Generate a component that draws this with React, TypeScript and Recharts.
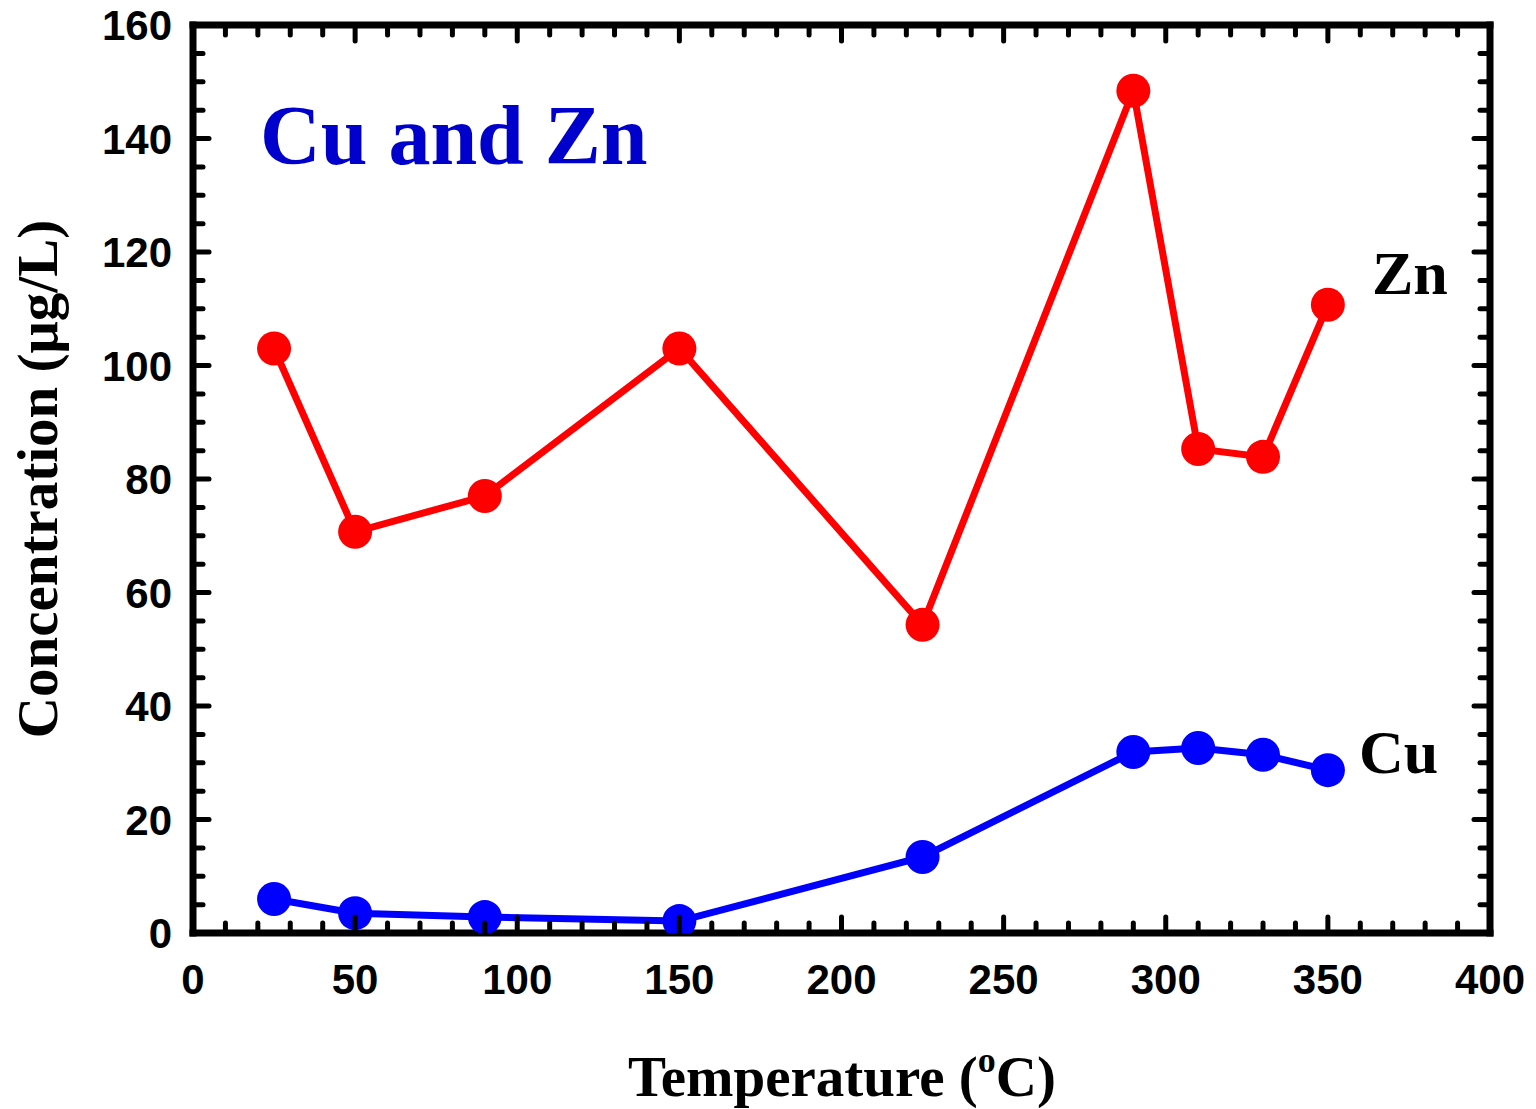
import React from 'react';
import { LineChart, Line, XAxis, YAxis, Label, Customized } from 'recharts';

// temperature (°C) for each sample
const temperature = [25, 50, 90, 150, 225, 290, 310, 330, 350];
// concentrations (µg/L)
const znValues = [103, 70.7, 77, 103, 54.3, 148.4, 85.3, 83.9, 110.7];
const cuValues = [6.0, 3.5, 2.8, 2.1, 13.4, 31.9, 32.6, 31.4, 28.7];

const xMajorTicks = [0, 50, 100, 150, 200, 250, 300, 350, 400];
const xMinorTicks = [10, 20, 30, 40, 60, 70, 80, 90, 110, 120, 130, 140, 160, 170, 180, 190, 210, 220, 230, 240, 260, 270, 280, 290, 310, 320, 330, 340, 360, 370, 380, 390];
const yMajorTicks = [0, 20, 40, 60, 80, 100, 120, 140, 160];
const yMinorTicks = [5, 10, 15, 25, 30, 35, 45, 50, 55, 65, 70, 75, 85, 90, 95, 105, 110, 115, 125, 130, 135, 145, 150, 155];

const data = temperature.map((t, i) => ({ t, zn: znValues[i], cu: cuValues[i] }));
const xAll = [...xMajorTicks, ...xMinorTicks].sort((a, b) => a - b);
const yAll = [...yMajorTicks, ...yMinorTicks].sort((a, b) => a - b);

const SANS = '"Liberation Sans", Arial, sans-serif';
const SERIF = '"Liberation Serif", "Times New Roman", serif';
const frame = { stroke: '#000', strokeWidth: 7, strokeLinecap: 'square' as const };
const MAJOR = 16;
const MINOR = 10;

const tickLen = (v: number, major: number[]) => (major.includes(v) ? MAJOR : MINOR);

// side: direction the tick goes into the plot
const makeTick = (
  side: 'up' | 'down' | 'left' | 'right',
  major: number[],
  label: 'x' | 'y' | null,
  ends: number[],
) =>
  (props: any) => {
    const { x, y, payload } = props;
    const v = payload.value;
    const len = tickLen(v, major);
    const dx = side === 'right' ? len : side === 'left' ? -len : 0;
    const dy = side === 'down' ? len : side === 'up' ? -len : 0;
    const isMajor = major.includes(v);
    const showLine = !ends.includes(v);
    return (
      <g>
        {showLine && (
          <line x1={x} y1={y} x2={x + dx} y2={y + dy} stroke="#000" strokeWidth={5} strokeLinecap="round" />
        )}
        {label === 'x' && isMajor && (
          <text x={x} y={y + 61} textAnchor="middle" fontFamily={SANS} fontWeight="bold" fontSize={42} fill="#000">
            {v}
          </text>
        )}
        {label === 'y' && isMajor && (
          <text x={x - 21} y={y + 15} textAnchor="end" fontFamily={SANS} fontWeight="bold" fontSize={42} fill="#000">
            {v}
          </text>
        )}
      </g>
    );
  };

const xTitle = () => (
  <text x={842} y={1096} textAnchor="middle" fontFamily={SERIF} fontWeight="bold" fontSize={57} fill="#000">
    Temperature (<tspan fontSize={36} dy={-24}>o</tspan><tspan dy={24}>C)</tspan>
  </text>
);

const yTitle = () => (
  <text
    x={57}
    y={479}
    transform="rotate(-90 57 479)"
    textAnchor="middle"
    fontFamily={SERIF}
    fontWeight="bold"
    fontSize={57}
    fill="#000"
  >
    Concentration (μg/L)
  </text>
);

const Annotations = () => (
  <g>
    <text x={260} y={164} fontFamily={SERIF} fontWeight="bold" fontSize={84} fill="#0000cc">
      Cu and Zn
    </text>
    <text x={1372} y={294} fontFamily={SERIF} fontWeight="bold" fontSize={62} fill="#000">
      Zn
    </text>
    <text x={1359} y={773} fontFamily={SERIF} fontWeight="bold" fontSize={62} fill="#000">
      Cu
    </text>
  </g>
);

export default function App() {
  return (
    <div style={{ position: 'absolute', left: 0, top: 0, background: '#fff' }}>
      <LineChart width={1536} height={1109} data={data} margin={{ top: 24, right: 45, left: 0, bottom: 0 }}>
        <XAxis
          xAxisId="x"
          dataKey="t"
          type="number"
          domain={[0, 400]}
          allowDataOverflow
          ticks={xAll}
          interval={0}
          height={176}
          axisLine={frame}
          tickLine={false}
          tickSize={0}
          tickMargin={0}
          tick={makeTick('up', xMajorTicks, 'x', [0, 400])}
        >
          <Label content={xTitle} />
        </XAxis>
        <XAxis
          xAxisId="xt"
          dataKey="t"
          type="number"
          orientation="top"
          domain={[0, 400]}
          allowDataOverflow
          ticks={xAll}
          interval={0}
          height={1}
          axisLine={frame}
          tickLine={false}
          tickSize={0}
          tickMargin={0}
          tick={makeTick('down', xMajorTicks, null, [0, 400])}
        />
        <YAxis
          yAxisId="y"
          type="number"
          domain={[0, 160]}
          allowDataOverflow
          ticks={yAll}
          interval={0}
          width={193}
          axisLine={frame}
          tickLine={false}
          tickSize={0}
          tickMargin={0}
          tick={makeTick('right', yMajorTicks, 'y', [0, 160])}
        >
          <Label content={yTitle} />
        </YAxis>
        <YAxis
          yAxisId="yr"
          type="number"
          orientation="right"
          domain={[0, 160]}
          allowDataOverflow
          ticks={yAll}
          interval={0}
          width={1}
          axisLine={frame}
          tickLine={false}
          tickSize={0}
          tickMargin={0}
          tick={makeTick('left', yMajorTicks, null, [0, 160])}
        />

        <Line
          xAxisId="x"
          yAxisId="y"
          type="linear"
          dataKey="zn"
          stroke="#ff0000"
          strokeWidth={7}
          dot={{ r: 17, fill: '#ff0000', stroke: 'none' }}
          isAnimationActive={false}
        />
        <Line
          xAxisId="x"
          yAxisId="y"
          type="linear"
          dataKey="cu"
          stroke="#0000ff"
          strokeWidth={7}
          dot={{ r: 17, fill: '#0000ff', stroke: 'none' }}
          isAnimationActive={false}
        />
        <Customized component={Annotations} />
      </LineChart>
    </div>
  );
}
